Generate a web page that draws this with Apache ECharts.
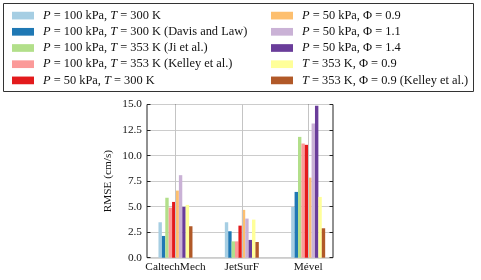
<!DOCTYPE html>
<html><head><meta charset="utf-8">
<script src="https://cdn.jsdelivr.net/npm/echarts@6/dist/echarts.min.js"></script>
<style>html,body{margin:0;padding:0;background:#fff}#c{width:481px;height:280px}</style>
</head><body><div id="c"></div>
<script>
const categories = ['CaltechMech', 'JetSurF', 'Mével'];
const seriesNames = [
  'P = 100 kPa, T = 300 K',
  'P = 100 kPa, T = 300 K (Davis and Law)',
  'P = 100 kPa, T = 353 K (Ji et al.)',
  'P = 100 kPa, T = 353 K (Kelley et al.)',
  'P = 50 kPa, T = 300 K',
  'P = 50 kPa, Φ = 0.9',
  'P = 50 kPa, Φ = 1.1',
  'P = 50 kPa, Φ = 1.4',
  'T = 353 K, Φ = 0.9',
  'T = 353 K, Φ = 0.9 (Kelley et al.)'
];
const legendLabels = [
  '{i|P} = 100 kPa, {i|T} = 300 K',
  '{i|P} = 100 kPa, {i|T} = 300 K (Davis and Law)',
  '{i|P} = 100 kPa, {i|T} = 353 K (Ji et al.)',
  '{i|P} = 100 kPa, {i|T} = 353 K (Kelley et al.)',
  '{i|P} = 50 kPa, {i|T} = 300 K',
  '{i|P} = 50 kPa, Φ = 0.9',
  '{i|P} = 50 kPa, Φ = 1.1',
  '{i|P} = 50 kPa, Φ = 1.4',
  '{i|T} = 353 K, Φ = 0.9',
  '{i|T} = 353 K, Φ = 0.9 (Kelley et al.)'
];
const colors = ['#a6cee3','#1f78b4','#b2df8a','#fb9a99','#e31a1c','#fdbf6f','#cab2d6','#6a3d9a','#ffff99','#b15928'];
// values per series: [CaltechMech, JetSurF, Mével]
const values = [
  [3.47, 3.47, 4.97],
  [2.13, 2.59, 6.44],
  [5.87, 1.60, 11.83],
  [4.90, 1.60, 11.18],
  [5.46, 3.14, 11.05],
  [6.57, 4.68, 7.84],
  [8.08, 3.83, 13.14],
  [4.97, 1.74, 14.87],
  [5.17, 3.73, 5.95],
  [3.08, 1.54, 2.88]
];
const yTicks = {min: 0, max: 15, interval: 2.5};

const font = 'Liberation Serif';
const txt = '#111';
const chart = echarts.init(document.getElementById('c'), null, {renderer: 'canvas'});
const gridTop = 104.5, gridBottom = 22.3;
const lf = 12.4;
const legendCommon = {
  orient: 'vertical', itemWidth: 22, itemHeight: 7.7, itemGap: 4,
  icon: 'rect', selectedMode: false, padding: 5,
  textStyle: {fontFamily: font, fontSize: lf, color: txt, lineHeight: 12.2, padding: [0,0,0,4],
    rich: {i: {fontFamily: font, fontStyle: 'italic', fontSize: lf, color: txt, lineHeight: 12.2}}},
  formatter: n => legendLabels[seriesNames.indexOf(n)]
};
const series = seriesNames.map((n, i) => ({
  name: n, type: 'bar', xAxisIndex: 1, yAxisIndex: 2,
  data: values[i], barWidth: 3.4, barGap: '0%',
  itemStyle: {color: colors[i]}, z: 3
}));
series.push({
  type: 'line', xAxisIndex: 1, yAxisIndex: 2, data: [], z: 1, silent: true,
  markLine: {silent: true, symbol: 'none', label: {show: false},
    lineStyle: {color: '#c4c4c4', width: 1, type: 'solid'},
    data: categories.map(c => ({xAxis: c}))}
});
chart.setOption({
  animation: false,
  color: colors,
  graphic: [{type: 'rect', shape: {x: 3.5, y: 3.5, width: 470, height: 88}, style: {fill: 'none', stroke: '#333', lineWidth: 1}, z: 0}],
  legend: [
    Object.assign({left: 7, top: 4.5, data: seriesNames.slice(0,5)}, legendCommon),
    Object.assign({left: 266, top: 4.5, data: seriesNames.slice(5)}, legendCommon)
  ],
  grid: [
    {left: 147, right: 148, top: gridTop, bottom: gridBottom, show: true, borderColor: '#222', borderWidth: 1, containLabel: false},
    {left: 142.3, width: 199.05, top: gridTop, bottom: gridBottom, containLabel: false}
  ],
  xAxis: [
    {gridIndex: 0, type: 'value', show: false, min: 0, max: 1},
    {gridIndex: 1, type: 'category', data: categories, position: 'bottom',
      axisLine: {show: false}, axisTick: {show: true, inside: true, alignWithLabel: true, length: 3.5, lineStyle: {color: '#222'}},
      axisLabel: {interval: 0, fontFamily: font, fontSize: 11.3, color: txt, margin: 4}, splitLine: {show: false}},
    {gridIndex: 1, type: 'category', data: categories, position: 'top',
      axisLine: {show: false}, axisTick: {show: true, inside: true, alignWithLabel: true, length: 3.5, lineStyle: {color: '#222'}},
      axisLabel: {show: false}, splitLine: {show: false}}
  ],
  yAxis: [
    {gridIndex: 0, type: 'value', min: yTicks.min, max: yTicks.max, interval: yTicks.interval, position: 'left',
      name: 'RMSE (cm/s)', nameLocation: 'middle', nameGap: 33, nameRotate: 90,
      nameTextStyle: {fontFamily: font, fontSize: 11.3, color: txt},
      axisLine: {show: false}, axisTick: {show: true, inside: true, length: 3.5, lineStyle: {color: '#222'}},
      axisLabel: {fontFamily: font, fontSize: 11.3, color: txt, margin: 5, formatter: v => v.toFixed(1)},
      splitLine: {show: true, lineStyle: {color: '#cccccc', width: 1}}},
    {gridIndex: 0, type: 'value', min: yTicks.min, max: yTicks.max, interval: yTicks.interval, position: 'right',
      axisLine: {show: false}, axisTick: {show: true, inside: true, length: 3.5, lineStyle: {color: '#222'}},
      axisLabel: {show: false}, splitLine: {show: false}},
    {gridIndex: 1, type: 'value', min: yTicks.min, max: yTicks.max, interval: yTicks.interval, show: false}
  ],
  series: series
});
</script></body></html>
